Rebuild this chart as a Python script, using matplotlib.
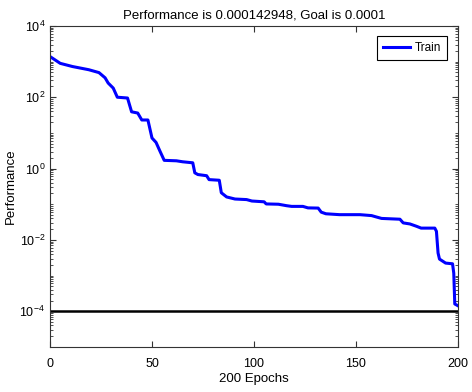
import matplotlib
matplotlib.use("Agg")
import matplotlib.pyplot as plt
from matplotlib.ticker import LogLocator, FixedLocator, NullFormatter

plt.rcParams['font.family'] = ['Liberation Sans', 'DejaVu Sans']

# training record (vertices)
epochs = [0, 5, 11, 19, 24, 27, 28.5, 31, 33, 38, 40, 43, 45, 48, 50, 52, 54, 56,
          62, 65, 70, 71, 72.5, 76.8, 78, 83, 84, 86.6, 90.7, 96.4, 99, 105, 106,
          112, 116, 118.5, 124, 126.5, 131.5, 133, 135.3, 142, 152, 157.7, 160,
          162.6, 171.6, 173.2, 176.5, 179.8, 182, 188.7, 189.5, 190.3, 191, 194,
          197.4, 198, 198.5, 200]
perf = [1380, 890, 725, 590, 490, 350, 250, 180, 100, 95, 39, 36, 23, 23, 7.2,
        5.4, 3.0, 1.7, 1.65, 1.55, 1.45, 0.76, 0.68, 0.63, 0.49, 0.47, 0.21, 0.16,
        0.14, 0.135, 0.123, 0.117, 0.102, 0.100, 0.091, 0.087, 0.087, 0.079,
        0.078, 0.060, 0.054, 0.051, 0.051, 0.048, 0.044, 0.040, 0.038, 0.030,
        0.028, 0.024, 0.0214, 0.0214, 0.0174, 0.0043, 0.0029, 0.00224, 0.00214,
        0.00117, 0.00016, 0.000143]
goal = 0.0001
n_epochs = 200
best = 0.000142948

fig = plt.figure(figsize=(4.72, 3.92), dpi=100)
ax = fig.add_axes([0.106, 0.115, 0.864, 0.819])

ax.semilogy(epochs, perf, color="#0000ff", linewidth=2.2, label="Train")
ax.axhline(goal, color="black", linewidth=1.8)

ax.set_xlim(0, n_epochs)
ax.set_ylim(1e-5, 1e4)
ax.set_xticks([0, 50, 100, 150, 200])
ax.yaxis.set_major_locator(FixedLocator([1e-4, 1e-2, 1e0, 1e2, 1e4]))
ax.yaxis.set_minor_locator(LogLocator(base=10, subs=range(1, 10), numticks=30))
ax.yaxis.set_minor_formatter(NullFormatter())

ax.tick_params(which="both", direction="in", top=True, right=True, labelsize=9,
               color="#333333")
ax.tick_params(which="major", length=4)
ax.tick_params(which="minor", length=2)
ax.tick_params(axis="x", pad=8)
for s in ax.spines.values():
    s.set_color("#333333")
    s.set_linewidth(0.8)

ax.set_title(f"Performance is {best:g}, Goal is {goal:g}", fontsize=9.5, pad=5)
ax.set_xlabel(f"{n_epochs} Epochs", fontsize=9.5, labelpad=2)
ax.set_ylabel("Performance", fontsize=9.5, labelpad=2)

leg = ax.legend(loc="upper right", fontsize=8.5, fancybox=False, framealpha=1,
                edgecolor="black", borderaxespad=0.9, handlelength=2.3,
                handletextpad=0.4, borderpad=0.5)
leg.get_frame().set_linewidth(0.8)

fig.savefig("out.png", dpi=100)
